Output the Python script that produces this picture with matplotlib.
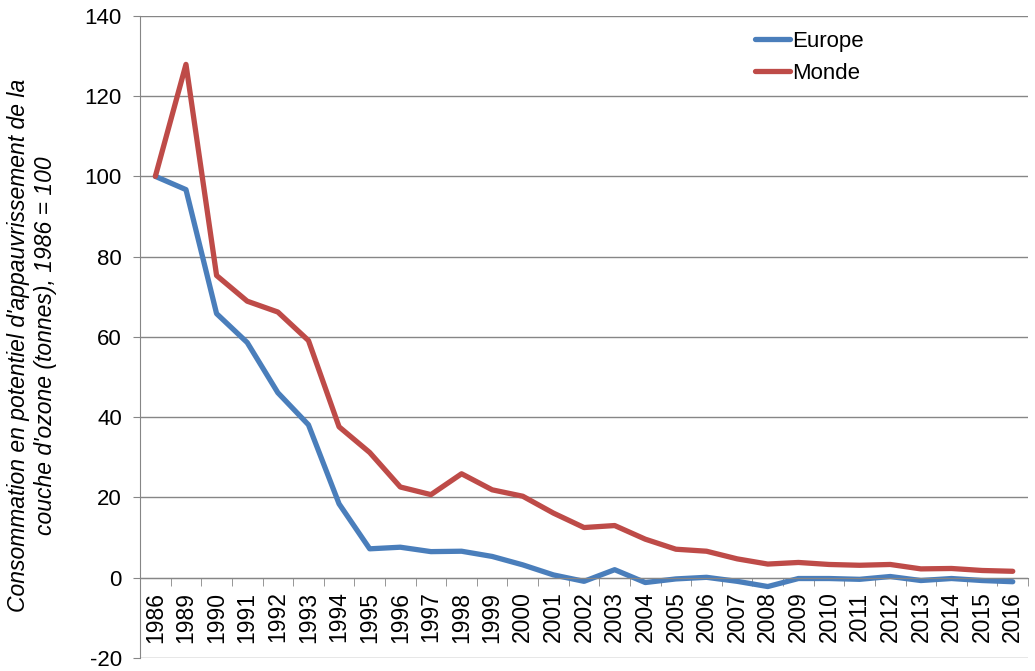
import matplotlib
matplotlib.use("Agg")
import matplotlib.pyplot as plt
import numpy as np

plt.rcParams["font.family"] = ["Liberation Sans", "DejaVu Sans"]
plt.rcParams["axes.unicode_minus"] = False

# Consommation de SAO, indice 1986 = 100
annees = ["1986", "1989", "1990", "1991", "1992", "1993", "1994", "1995", "1996",
          "1997", "1998", "1999", "2000", "2001", "2002", "2003", "2004", "2005",
          "2006", "2007", "2008", "2009", "2010", "2011", "2012", "2013", "2014",
          "2015", "2016"]
europe = [100, 96.7, 65.8, 58.6, 46.1, 38.1, 18.4, 7.2, 7.6, 6.5, 6.6, 5.3, 3.2,
          0.7, -0.9, 2.0, -1.2, -0.3, 0.1, -0.9, -2.2, -0.2, -0.2, -0.4, 0.3,
          -0.7, -0.2, -0.7, -1.0]
monde = [100, 127.9, 75.3, 68.9, 66.2, 59.1, 37.6, 31.2, 22.6, 20.7, 25.9, 21.9,
         20.3, 16.1, 12.5, 13.0, 9.6, 7.1, 6.6, 4.7, 3.4, 3.8, 3.3, 3.1, 3.3, 2.2,
         2.3, 1.8, 1.6]

gris = "#868686"
x = np.arange(len(annees))

fig = plt.figure(figsize=(10.35, 6.71), dpi=100)
ax = fig.add_axes([0.1353, 0.0194, 0.858, 0.957])

ax.plot(x, europe, color="#4A7EBB", lw=3.8, label="Europe", solid_capstyle="round")
ax.plot(x, monde, color="#BE4B48", lw=3.8, label="Monde", solid_capstyle="round")

ax.set_ylim(-20, 140)
ax.set_yticks(np.arange(-20, 141, 20))
ax.set_xlim(-0.5, len(annees) - 0.5)
ax.yaxis.grid(True, color=gris, lw=1)
ax.set_axisbelow(True)

for s in ["top", "right"]:
    ax.spines[s].set_visible(False)
ax.spines["left"].set_color(gris)
ax.spines["bottom"].set_color(gris)
ax.spines["bottom"].set_position(("data", 0))

ax.set_xticks(x)
ax.set_xticklabels(annees, rotation=90, fontsize=16.5)
ax.set_xticks(np.arange(-0.5, len(annees), 1), minor=True)
ax.tick_params(axis="x", which="major", length=0, pad=10)
ax.tick_params(axis="x", which="minor", length=6, color=gris, direction="out")
ax.tick_params(axis="y", length=5, color=gris, labelsize=16, pad=8)

ax.set_ylabel("Consommation en potentiel d'appauvrissement de la\n"
              "couche d'ozone (tonnes), 1986 = 100",
              fontsize=16.5, style="italic")
ax.yaxis.set_label_coords(-0.094, 0.487)

ax.legend(loc="upper right", bbox_to_anchor=(0.838, 1.008), frameon=False,
          fontsize=16, handlelength=1.6, handletextpad=0.1, labelspacing=0.5)

fig.savefig("out.png", dpi=100)
